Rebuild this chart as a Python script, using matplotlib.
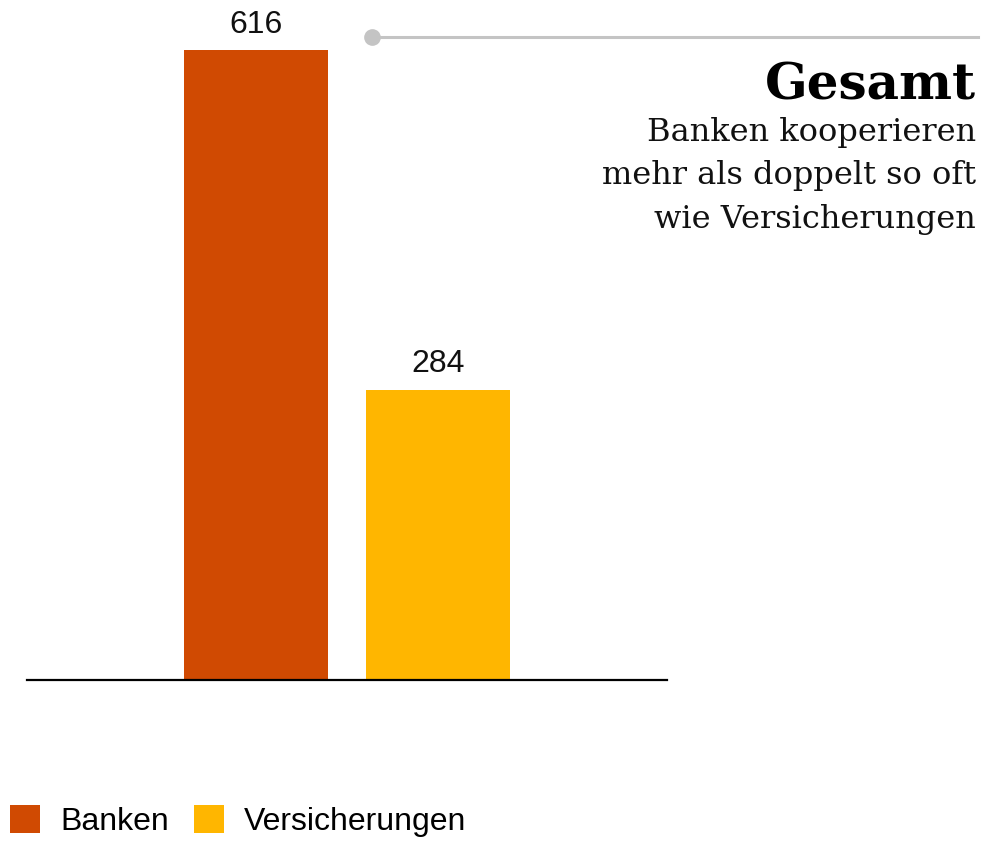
import matplotlib
matplotlib.use("Agg")
import matplotlib.pyplot as plt
from matplotlib.patches import Patch

# data
categories = ["Banken", "Versicherungen"]
values = [616, 284]
colors = ["#D04A02", "#FFB600"]
title = "Gesamt"
subtitle = "Banken kooperieren\nmehr als doppelt so oft\nwie Versicherungen"

W, H = 985, 842
fig = plt.figure(figsize=(W / 100, H / 100), dpi=100)
fig.patch.set_facecolor("white")

# axes placed in pixel terms: baseline at y=680, top at y=50
ax = fig.add_axes([27 / W, (H - 680) / H, 640 / W, 630 / H])
x = range(len(values))
bars = ax.bar(x, values, width=0.79, color=colors, zorder=2)
ax.set_xlim(-1.258, 2.258)
ax.set_ylim(0, max(values))
ax.axis("off")
ax.axhline(0, color="black", lw=1.6, zorder=3, clip_on=False)

for b, v in zip(bars, values):
    ax.annotate(f"{v}", (b.get_x() + b.get_width() / 2, v),
                xytext=(0, 12.5), textcoords="offset points",
                ha="center", va="baseline", fontsize=23,
                family="Liberation Sans", color="#111111", annotation_clip=False)

# callout line with dot
fig.add_artist(plt.Line2D([372 / W, 978 / W], [(H - 37) / H] * 2,
                          color="#C4C4C4", lw=2.2, transform=fig.transFigure))
fig.add_artist(plt.Line2D([372 / W], [(H - 37) / H], marker="o", ms=11,
                          color="#C4C4C4", transform=fig.transFigure))

fig.text(976 / W, (H - 100) / H, title, ha="right", va="baseline",
         fontsize=36, fontweight="bold", family="DejaVu Serif")
fig.text(976 / W, (H - 117) / H, subtitle, ha="right", va="top",
         fontsize=23, family="DejaVu Serif", linespacing=1.52, color="#111111")

handles = [Patch(facecolor=c, edgecolor="none") for c in colors]
fig.legend(handles, categories, loc="lower left", bbox_to_anchor=(10 / W, 5 / H),
           ncol=2, frameon=False, prop={"family": "Liberation Sans", "size": 23},
           handlelength=0.94, handleheight=0.94, handletextpad=0.63,
           columnspacing=0.78, borderaxespad=0, borderpad=0)

fig.savefig("out.png", dpi=100, facecolor="white")
